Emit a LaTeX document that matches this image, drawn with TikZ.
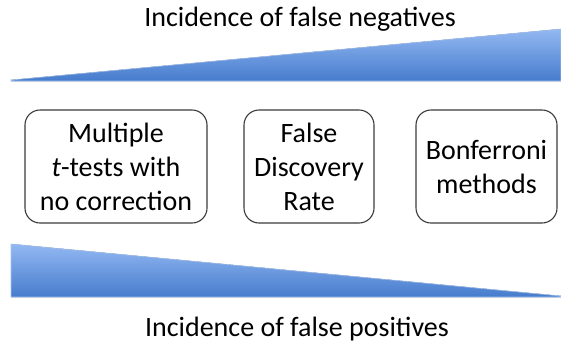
\documentclass[tikz,border=0pt]{standalone}
\usepackage{fontspec}
\setmainfont{Carlito}
\usetikzlibrary{shadings}
\definecolor{wedgetop}{HTML}{93B8F2}
\definecolor{wedgebot}{HTML}{467CCD}
\definecolor{wedgeedge}{HTML}{A8C4EE}
\definecolor{boxline}{HTML}{3A3A3A}
\tikzset{
  methodbox/.style={draw=boxline, line width=1.1pt, rounded corners=15pt,
    align=center, inner sep=0pt, minimum height=113pt,
    font=\fontsize{28}{34}\selectfont},
  caption/.style={anchor=base, inner sep=0pt, font=\fontsize{28}{34}\selectfont},
  wedge/.style={top color=wedgetop, bottom color=wedgebot, draw=wedgeedge, line width=0.6pt}
}
\begin{document}
\begin{tikzpicture}[x=1pt,y=-1pt]
\useasboundingbox (0,0) rectangle (561,343);
% wedges
\fill[wedge] (11,80) -- (561,29) -- (561,81) -- (11,81) -- cycle;
\fill[wedge] (11,244) -- (561,296) -- (561,297) -- (11,297) -- cycle;
% captions
\node[caption] (neg) at (300,26) {Incidence of false negatives};
\node[caption] (pos) at (297,336) {Incidence of false positives};
% boxes
\node[methodbox, minimum width=182pt] (b1) at (116,166.5) {Multiple\\\textit{t}-tests with\\no correction};
\node[methodbox, minimum width=130pt] (b2) at (309,166.5) {False\\Discovery\\Rate};
\node[methodbox, minimum width=141pt] (b3) at (486.5,166.5) {Bonferroni\\methods};
\end{tikzpicture}
\end{document}
